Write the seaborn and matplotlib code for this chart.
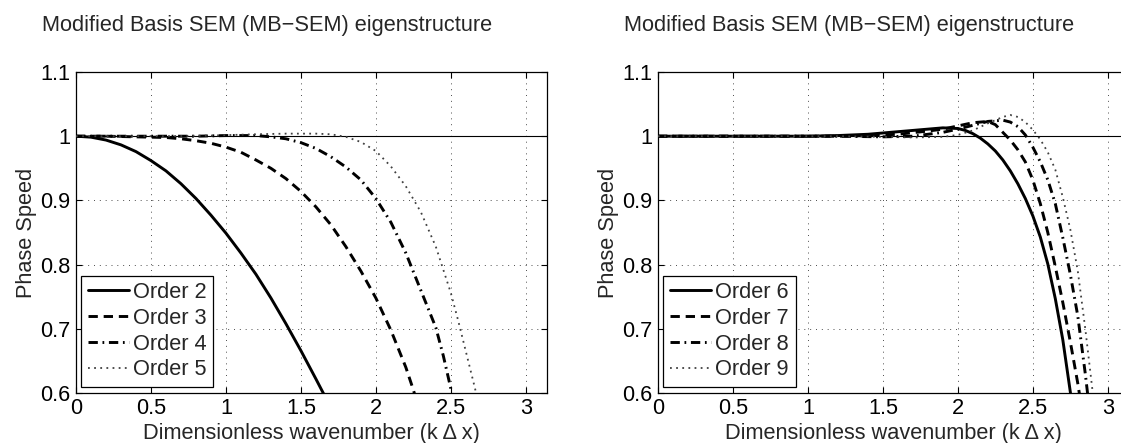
import matplotlib
matplotlib.use("Agg")
import matplotlib.pyplot as plt
import seaborn as sns
import numpy as np

# -------------------------
# Data
# -------------------------
k_o2 = [0, 0.1, 0.2, 0.3, 0.4, 0.5, 0.6, 0.7, 0.8, 0.9, 1.0, 1.1, 1.2, 1.3, 1.4, 1.5, 1.6, 1.7]
c_o2 = [1.0, 0.9985, 0.994, 0.9865, 0.976, 0.962, 0.946, 0.926, 0.903, 0.877, 0.849, 0.818,
        0.785, 0.748, 0.708, 0.666, 0.622, 0.577]

k_o3 = [0, 0.2, 0.4, 0.5, 0.6, 0.7, 0.8, 0.9, 1.0, 1.1, 1.2, 1.3, 1.4, 1.5, 1.6, 1.7, 1.8, 1.9,
        2.0, 2.1, 2.2, 2.25, 2.3]
c_o3 = [1.0, 1.0, 0.999, 0.9985, 0.998, 0.996, 0.993, 0.989, 0.983, 0.975, 0.963, 0.950, 0.934,
        0.914, 0.890, 0.862, 0.828, 0.790, 0.748, 0.698, 0.640, 0.605, 0.565]

k_o4 = [0, 0.4, 0.8, 1.0, 1.2, 1.3, 1.4, 1.5, 1.6, 1.7, 1.8, 1.9, 2.0, 2.1, 2.2, 2.3, 2.4, 2.45,
        2.5, 2.53]
c_o4 = [1.0, 1.0, 1.0, 1.001, 1.001, 0.999, 0.996, 0.990, 0.981, 0.968, 0.952, 0.932, 0.903,
        0.866, 0.818, 0.760, 0.702, 0.658, 0.607, 0.575]

k_o5 = [0, 0.6, 0.9, 1.2, 1.4, 1.6, 1.7, 1.8, 1.9, 2.0, 2.1, 2.2, 2.3, 2.4, 2.5, 2.55, 2.6, 2.65, 2.7]
c_o5 = [1.0, 1.0, 1.001, 1.003, 1.004, 1.004, 1.003, 0.999, 0.991, 0.977, 0.953, 0.922, 0.882,
        0.828, 0.756, 0.712, 0.665, 0.618, 0.570]

k_o6 = [0, 1.0, 1.2, 1.4, 1.6, 1.8, 1.9, 2.0, 2.05, 2.1, 2.15, 2.2, 2.25, 2.3, 2.35, 2.4, 2.45,
        2.5, 2.55, 2.6, 2.65, 2.7, 2.75, 2.78]
c_o6 = [1.0, 1.0, 1.001, 1.003, 1.007, 1.011, 1.013, 1.012, 1.009, 1.004, 0.997, 0.988, 0.977,
        0.963, 0.946, 0.926, 0.903, 0.876, 0.843, 0.801, 0.747, 0.683, 0.602, 0.550]

k_o7 = [0, 1.2, 1.4, 1.6, 1.8, 1.9, 2.0, 2.1, 2.2, 2.25, 2.3, 2.35, 2.4, 2.45, 2.5, 2.55, 2.6,
        2.65, 2.7, 2.75, 2.8, 2.83]
c_o7 = [1.0, 1.0, 1.001, 1.003, 1.008, 1.011, 1.016, 1.021, 1.023, 1.018, 1.006, 0.994, 0.979,
        0.960, 0.932, 0.895, 0.850, 0.797, 0.741, 0.680, 0.615, 0.570]

k_o8 = [0, 1.2, 1.5, 1.7, 1.9, 2.0, 2.1, 2.2, 2.3, 2.35, 2.4, 2.45, 2.5, 2.55, 2.6, 2.65, 2.7,
        2.75, 2.8, 2.85, 2.88]
c_o8 = [1.0, 1.0, 0.999, 1.0, 1.006, 1.011, 1.017, 1.023, 1.025, 1.022, 1.015, 1.002, 0.983,
        0.960, 0.932, 0.895, 0.842, 0.785, 0.720, 0.630, 0.570]

k_o9 = [0, 1.2, 1.5, 1.7, 1.9, 2.0, 2.1, 2.2, 2.3, 2.35, 2.4, 2.45, 2.5, 2.55, 2.6, 2.65, 2.7,
        2.75, 2.8, 2.85, 2.9, 2.92]
c_o9 = [1.0, 1.0, 0.999, 0.998, 0.999, 1.002, 1.009, 1.020, 1.030, 1.033, 1.030, 1.022, 1.010,
        0.995, 0.975, 0.948, 0.905, 0.855, 0.790, 0.700, 0.600, 0.560]

x_ticks = [0, 0.5, 1, 1.5, 2, 2.5, 3]
y_ticks = [0.6, 0.7, 0.8, 0.9, 1.0, 1.1]

title = "Modified Basis SEM (MB\u2212SEM) eigenstructure"
xlabel = "Dimensionless wavenumber (k \u0394 x)"
ylabel = "Phase Speed"

# -------------------------
# Style
# -------------------------
sns.set_style("white")
plt.rcParams["font.family"] = ["Liberation Sans", "DejaVu Sans"]
plt.rcParams["axes.unicode_minus"] = False
FS = 15.7

styles = [
    dict(linestyle="-", linewidth=2.1, color="black"),
    dict(linestyle=(0, (3.2, 2)), linewidth=2.1, color="black"),
    dict(linestyle=(0, (3.2, 1.6, 0.6, 1.6)), linewidth=2.1, color="black"),
    dict(linestyle=(0, (1, 2.4)), linewidth=1.3, color="0.25"),
]

panels = [
    [(k_o2, c_o2, "Order 2"), (k_o3, c_o3, "Order 3"), (k_o4, c_o4, "Order 4"), (k_o5, c_o5, "Order 5")],
    [(k_o6, c_o6, "Order 6"), (k_o7, c_o7, "Order 7"), (k_o8, c_o8, "Order 8"), (k_o9, c_o9, "Order 9")],
]

fig = plt.figure(figsize=(11.21, 4.43), dpi=100)
W, H = 1121, 443
lefts = [76, 658]

for left, series in zip(lefts, panels):
    ax = fig.add_axes([left / W, (H - 393) / H, 471 / W, 321 / H])

    ax.axhline(1.0, color="black", linewidth=0.8, zorder=1)
    for (k, c, lab), st in zip(series, styles):
        sns.lineplot(x=k, y=c, ax=ax, label=lab, sort=False, zorder=3, **st)

    ax.set_xlim(0, np.pi)
    ax.set_ylim(0.6, 1.1)
    ax.set_xticks(x_ticks)
    ax.set_yticks(y_ticks)
    ax.set_xticklabels(["%g" % t for t in x_ticks])
    ax.set_yticklabels(["%g" % t for t in y_ticks])

    ax.grid(True, color="0.3", linestyle=(0, (1, 5)), linewidth=0.7)
    ax.set_axisbelow(True)
    for sp in ax.spines.values():
        sp.set_visible(True)
        sp.set_color("black")
        sp.set_linewidth(0.9)
    ax.tick_params(direction="in", length=4, width=0.8, top=True, right=True,
                   bottom=True, left=True, labelsize=FS, colors="black")
    ax.tick_params(axis="x", pad=3.3)
    ax.tick_params(axis="y", pad=4.3)

    ax.set_xlabel(xlabel, fontsize=FS, labelpad=3.5)
    ax.set_ylabel(ylabel, fontsize=FS, labelpad=2)

    ax.text(-0.072, 1.145, title, transform=ax.transAxes, fontsize=FS,
            ha="left", va="center")

    leg = ax.legend(loc="lower left", bbox_to_anchor=(0.0106, 0.0187), borderaxespad=0,
                    fancybox=False, framealpha=1, edgecolor="black", fontsize=FS,
                    handlelength=1.9, handletextpad=0.2, labelspacing=0.22,
                    borderpad=0.3)
    leg.get_frame().set_linewidth(0.9)

fig.savefig("out.png", dpi=100)
